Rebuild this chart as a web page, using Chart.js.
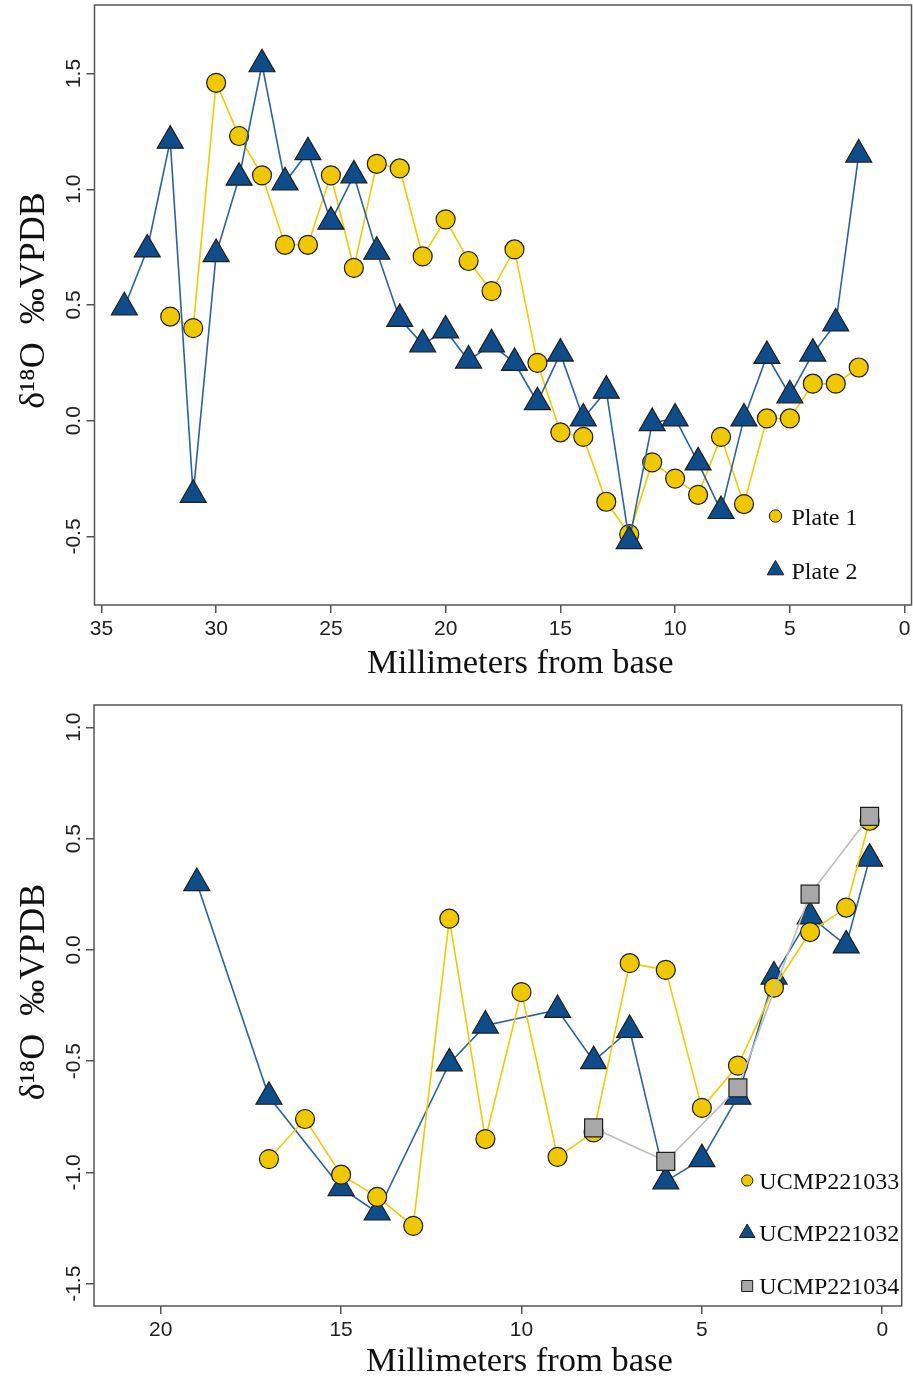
<!DOCTYPE html>
<html>
<head>
<meta charset="utf-8">
<title>δ18O profiles</title>
<script src="https://cdn.jsdelivr.net/npm/chart.js@4.4.1/dist/chart.umd.min.js"></script>
<style>
  html, body { margin: 0; padding: 0; background: #ffffff; }
  #wrap { position: relative; width: 913px; height: 1382px; overflow: hidden; }
  #wrap canvas { position: absolute; left: 0; }
  #plates { top: 0; }
  #ucmp { top: 690px; }
</style>
</head>
<body>
<div id="wrap">
  <canvas id="plates" width="913" height="690"></canvas>
  <canvas id="ucmp" width="913" height="692"></canvas>
</div>
<script>
// ---- Upper panel: two plates, δ18O (‰ VPDB) against distance from base (mm)
const plate1Mm = [32, 31, 30, 29, 28, 27, 26, 25, 24, 23, 22, 21, 20, 19, 18, 17,
                  16, 15, 14, 13, 12, 11, 10, 9, 8, 7, 6, 5, 4, 3, 2];
const plate1D18O = [0.45, 0.40, 1.46, 1.23, 1.06, 0.76, 0.76, 1.06, 0.66, 1.11, 1.09, 0.71,
                    0.87, 0.69, 0.56, 0.74, 0.25, -0.05, -0.07, -0.35, -0.49, -0.18, -0.25,
                    -0.32, -0.07, -0.36, 0.01, 0.01, 0.16, 0.16, 0.23];

const plate2Mm = [34, 33, 32, 31, 30, 29, 28, 27, 26, 25, 24, 23, 22, 21, 20, 19, 18,
                  17, 16, 15, 14, 13, 12, 11, 10, 9, 8, 7, 6, 5, 4, 3, 2];
const plate2D18O = [0.49, 0.74, 1.21, -0.32, 0.72, 1.05, 1.54, 1.03, 1.16, 0.86, 1.06, 0.73,
                    0.44, 0.33, 0.39, 0.26, 0.33, 0.25, 0.08, 0.29, 0.01, 0.13, -0.52, -0.01,
                    0.01, -0.18, -0.39, 0.01, 0.28, 0.11, 0.29, 0.42, 1.15];

const platesXTicks = [35, 30, 25, 20, 15, 10, 5, 0];
const platesYTicks = [-0.5, 0, 0.5, 1, 1.5];

// ---- Lower panel: three specimens
const ucmp221033Mm = [17, 16, 15, 14, 13, 12, 11, 10, 9, 8, 7, 6, 5, 4, 3, 2, 1, 0.35];
const ucmp221033D18O = [-0.94, -0.76, -1.01, -1.11, -1.24, 0.14, -0.85, -0.19, -0.93, -0.82,
                        -0.06, -0.09, -0.71, -0.52, -0.17, 0.08, 0.19, 0.58];

const ucmp221032Mm = [19, 17, 15, 14, 12, 11, 9, 8, 7, 6, 5, 4, 3, 2, 1, 0.35];
const ucmp221032D18O = [0.30, -0.66, -1.07, -1.18, -0.51, -0.34, -0.27, -0.50, -0.36, -1.04,
                        -0.94, -0.66, -0.12, 0.15, 0.02, 0.41];

const ucmp221034Mm = [8, 6, 4, 2, 0.35];
const ucmp221034D18O = [-0.80, -0.95, -0.62, 0.25, 0.60];

const ucmpXTicks = [20, 15, 10, 5, 0];
const ucmpYTicks = [-1.5, -1, -0.5, 0, 0.5, 1];

// ---- Styling
const YELLOW = '#efc800', YELLOW_LINE = '#f3c900';
const BLUE = '#0f4c8a', BLUE_LINE = '#2a63a3';
const GREY = '#a8a8a8', GREY_LINE = '#bdbdbd';
const EDGE = '#1e1e1e';
const AXIS = '#555555';
const SANS = '"Liberation Sans", Arial, Helvetica, sans-serif';
const SERIF = '"Liberation Serif", "Times New Roman", Times, serif';
const Y_TITLE = 'δ¹⁸O  ‰VPDB';
const X_TITLE = 'Millimeters from base';

const pairs = (xs, ys) => xs.map((x, i) => ({ x: x, y: ys[i] }));

const STYLES = {
  circle:   { pointStyle: 'circle',   radius: 9.5, fill: YELLOW, line: YELLOW_LINE },
  triangle: { pointStyle: 'triangle', radius: 15,  fill: BLUE,   line: BLUE_LINE },
  rect:     { pointStyle: 'rect',     radius: 12.7, fill: GREY,  line: GREY_LINE }
};

function series(label, xs, ys, kind, order) {
  const s = STYLES[kind];
  return {
    label: label,
    data: pairs(xs, ys),
    showLine: true,
    tension: 0,
    borderColor: s.line,
    borderWidth: 1.6,
    pointStyle: s.pointStyle,
    pointRadius: s.radius,
    pointHoverRadius: s.radius,
    pointBackgroundColor: s.fill,
    pointBorderColor: EDGE,
    pointBorderWidth: 1.2,
    order: order
  };
}

// Box around the plotting region
const plotFrame = {
  id: 'plotFrame',
  beforeDatasetsDraw(chart) {
    const { ctx, chartArea: a } = chart;
    ctx.save();
    ctx.strokeStyle = AXIS;
    ctx.lineWidth = 1.5;
    ctx.strokeRect(a.left, a.top, a.right - a.left, a.bottom - a.top);
    ctx.restore();
  }
};

// Key drawn inside the lower right corner of the plotting region
function drawMarker(ctx, style, r, x, y) {
  ctx.beginPath();
  if (style === 'circle') {
    ctx.arc(x, y, r, 0, Math.PI * 2);
  } else if (style === 'triangle') {
    ctx.moveTo(x, y - r);
    ctx.lineTo(x + r * Math.sqrt(3) / 2, y + r / 2);
    ctx.lineTo(x - r * Math.sqrt(3) / 2, y + r / 2);
    ctx.closePath();
  } else {
    const h = r * Math.SQRT1_2;
    ctx.rect(x - h, y - h, 2 * h, 2 * h);
  }
  ctx.fill();
  ctx.stroke();
}

const cornerKey = {
  id: 'cornerKey',
  afterDraw(chart, args, opts) {
    const ctx = chart.ctx;
    const a = chart.chartArea;
    ctx.save();
    ctx.font = opts.fontSize + 'px ' + SERIF;
    ctx.textBaseline = 'alphabetic';
    ctx.textAlign = 'left';
    opts.entries.forEach((idx, row) => {
      const ds = chart.data.datasets[idx];
      const cy = a.bottom - opts.rowsFromBottom[row];
      ctx.fillStyle = ds.pointBackgroundColor;
      ctx.strokeStyle = EDGE;
      ctx.lineWidth = 1;
      drawMarker(ctx, ds.pointStyle, opts.markerRadius[ds.pointStyle], a.right - opts.markerFromRight, cy);
      ctx.fillStyle = '#111111';
      ctx.fillText(ds.label, a.right - opts.textFromRight, cy + opts.baselineShift);
    });
    ctx.restore();
  }
};

function linearAxis(cfg) {
  return {
    type: 'linear',
    position: cfg.position,
    reverse: !!cfg.reverse,
    min: cfg.min,
    max: cfg.max,
    afterBuildTicks(scale) {
      scale.ticks = cfg.ticks.map(v => ({ value: v }));
    },
    afterFit(scale) {
      if (cfg.position === 'left') {
        scale.width = cfg.size;
        scale.paddingTop = 0;
        scale.paddingBottom = 0;
      } else {
        scale.height = cfg.size;
        scale.paddingLeft = 0;
        scale.paddingRight = 0;
      }
    },
    border: { display: false },
    grid: {
      display: true,
      drawOnChartArea: false,
      drawTicks: true,
      tickLength: 8,
      color: AXIS,
      lineWidth: 1.5
    },
    ticks: Object.assign({
      color: '#222222',
      font: { family: SANS, size: 21 },
      autoSkip: false,
      callback: cfg.format
    }, cfg.tickExtra),
    title: {
      display: true,
      text: cfg.title,
      color: '#111111',
      font: { family: SERIF, size: cfg.titleSize, lineHeight: 1 },
      padding: cfg.titlePadding
    }
  };
}

function makeChart(canvasId, datasets, geo) {
  // leading spaces nudge the centred axis titles along their axes
  const xTitle = ' '.repeat(geo.xTitleIndent) + X_TITLE;
  const yTitle = ' '.repeat(geo.yTitleIndent) + Y_TITLE;
  return new Chart(document.getElementById(canvasId), {
    type: 'scatter',
    data: { datasets: datasets },
    options: {
      responsive: false,
      maintainAspectRatio: false,
      devicePixelRatio: 1,
      animation: false,
      events: [],
      layout: {
        autoPadding: false,
        padding: { top: geo.padTop, right: geo.padRight, bottom: 0, left: 0 }
      },
      plugins: {
        legend: { display: false },
        tooltip: { enabled: false },
        cornerKey: geo.key
      },
      scales: {
        x: linearAxis({
          position: 'bottom', reverse: true, min: geo.xMin, max: geo.xMax,
          ticks: geo.xTicks, size: geo.xSize, title: xTitle, titleSize: 34.5,
          titlePadding: { top: 0, bottom: geo.xTitlePad },
          format: v => String(v),
          tickExtra: { padding: 4, maxRotation: 0, minRotation: 0 }
        }),
        y: linearAxis({
          position: 'left', min: geo.yMin, max: geo.yMax,
          ticks: geo.yTicks, size: geo.ySize, title: yTitle, titleSize: 36,
          titlePadding: { top: 17, bottom: 0 },
          format: v => v.toFixed(1),
          tickExtra: { minRotation: 90, maxRotation: 90, crossAlign: 'center', padding: geo.yTickPad }
        })
      }
    },
    plugins: [plotFrame, cornerKey]
  });
}

// Upper panel
makeChart('plates', [
  series('Plate 1', plate1Mm, plate1D18O, 'circle', 1),
  series('Plate 2', plate2Mm, plate2D18O, 'triangle', 0)
], {
  padTop: 5, padRight: 1.5,
  xMin: -0.3, xMax: 35.3, xTicks: platesXTicks, xSize: 85, xTitlePad: 9, xTitleIndent: 4,
  yMin: -0.796, yMax: 1.796, yTicks: platesYTicks, ySize: 94.5, yTickPad: -5.6, yTitleIndent: 1,
  key: {
    entries: [0, 1],
    rowsFromBottom: [89, 35],
    markerFromRight: 136,
    textFromRight: 120,
    baselineShift: 8.5,
    fontSize: 24,
    markerRadius: { circle: 6.2, triangle: 9.6, rect: 7.8 }
  }
});

// Lower panel
makeChart('ucmp', [
  series('UCMP221033', ucmp221033Mm, ucmp221033D18O, 'circle', 1),
  series('UCMP221032', ucmp221032Mm, ucmp221032D18O, 'triangle', 2),
  series('UCMP221034', ucmp221034Mm, ucmp221034D18O, 'rect', 0)
], {
  padTop: 15, padRight: 11.3,
  xMin: -0.54, xMax: 21.85, xTicks: ucmpXTicks, xSize: 76, xTitlePad: 3, xTitleIndent: 5,
  yMin: -1.6, yMax: 1.1, yTicks: ucmpYTicks, ySize: 94, yTickPad: -6.1, yTitleIndent: 3,
  key: {
    entries: [0, 1, 2],
    rowsFromBottom: [125.5, 73, 20],
    markerFromRight: 154.5,
    textFromRight: 142.4,
    baselineShift: 8,
    fontSize: 24,
    markerRadius: { circle: 5.6, triangle: 9, rect: 7.8 }
  }
});
</script>
</body>
</html>
